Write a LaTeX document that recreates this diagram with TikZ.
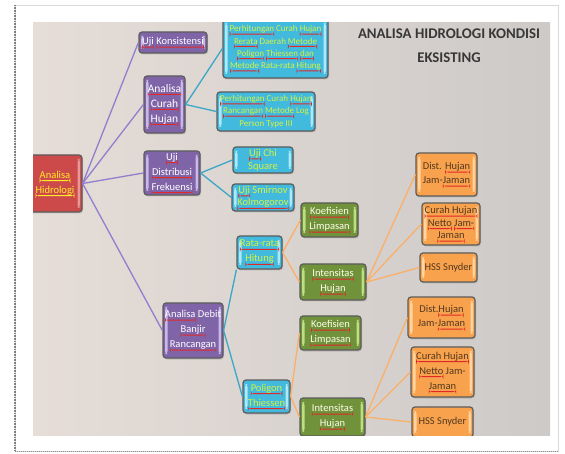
\documentclass[tikz,border=0pt]{standalone}
\usepackage{fontspec}
\setmainfont{Carlito}
\usetikzlibrary{shadows}

\definecolor{unguF}{RGB}{128,100,168}
\definecolor{unguL}{RGB}{200,185,230}
\definecolor{biruF}{RGB}{66,186,222}
\definecolor{biruL}{RGB}{175,232,246}
\definecolor{hijauF}{RGB}{112,146,58}
\definecolor{hijauL}{RGB}{190,222,130}
\definecolor{oranyeF}{RGB}{249,162,77}
\definecolor{oranyeL}{RGB}{255,212,160}
\definecolor{merahF}{RGB}{205,74,74}
\definecolor{merahL}{RGB}{236,150,150}
\definecolor{garis}{RGB}{92,92,92}
\definecolor{ulred}{RGB}{225,40,40}
\definecolor{kuning}{RGB}{255,236,40}
\definecolor{hijaumuda}{RGB}{214,242,60}
\definecolor{coklat}{RGB}{82,56,32}
\definecolor{bgL}{RGB}{230,221,215}
\definecolor{bgM}{RGB}{241,233,226}
\definecolor{bgR}{RGB}{205,202,200}
\definecolor{lineungu}{RGB}{146,126,206}
\colorlet{linebiru}{biruF!90!black}
\colorlet{lineoranye}{oranyeF!85!white}

% underline in its own colour, text keeps its colour
\newlength\rulw
\newcommand\rul[2][ulred]{\settowidth\rulw{#2}\rlap{\tikz[baseline=0pt]\fill[#1] (0pt,-1.8pt) rectangle (\rulw,-2.8pt);}#2}

\begin{document}
\begin{tikzpicture}[x=1pt, y=-1pt,
  kotak/.style={rectangle, rounded corners=3pt, draw=garis, line width=1.2pt, inner sep=1pt, align=center,
    font=\fontsize{10.5}{15}\selectfont, drop shadow={shadow xshift=1pt, shadow yshift=-1.5pt, opacity=.3}},
  bevel/.style={path picture={
    \fill[#1] ([xshift=2pt,yshift=4pt]path picture bounding box.south west) rectangle ([xshift=4.5pt,yshift=-4pt]path picture bounding box.north west);
    \fill[#1] ([xshift=-4.5pt,yshift=4pt]path picture bounding box.south east) rectangle ([xshift=-2pt,yshift=-4pt]path picture bounding box.north east);}},
  sz/.style 2 args={minimum width=#1pt, minimum height=#2pt},
  merah/.style={kotak, fill=merahF, text=kuning, bevel=merahL},
  ungu/.style={kotak, fill=unguF, text=white, bevel=unguL},
  biru/.style={kotak, fill=biruF, text=hijaumuda, bevel=biruL},
  hijau/.style={kotak, fill=hijauF, text=white!92!yellow, bevel=hijauL},
  oranye/.style={kotak, fill=oranyeF, text=coklat, bevel=oranyeL},
  garisungu/.style={lineungu, line width=1.3pt},
  garisbiru/.style={linebiru, line width=1.3pt},
  garisoranye/.style={lineoranye, line width=1.3pt}]

  \useasboundingbox (0,0) rectangle (565,454);
  \fill[white] (0,0) rectangle (565,454);
  \draw[black!15] (15,5) rectangle (558,451);
  \draw[black!50, line width=2.5pt, dash pattern=on 0.8pt off 0.8pt] (15,5) -- (15,451);
  \draw[black!45, line width=1pt, dash pattern=on 1pt off 1pt] (15,451) -- (558,451);

  \begin{scope}
  \clip (33,23) rectangle (550,435);
  \shade[left color=bgL, middle color=bgM, right color=bgR] (33,23) rectangle (550,435);

  \node[font=\bfseries\fontsize{14.8}{24}\selectfont, text=black!78, align=center] (judul) at (449,46) {ANALISA HIDROLOGI KONDISI\\EKSISTING};

  % level 1
  \node[merah, sz={54}{57}] (hidrologi) at (55,183.5) {\rul[kuning]{Analisa}\\\rul[kuning]{Hidrologi}};

  % level 2
  \node[ungu, sz={68}{21}] (konsistensi) at (173,42.5) {\rul{Uji} \rul{Konsistensi}};
  \node[ungu, sz={41}{57}, font=\fontsize{11.5}{15}\selectfont] (curah) at (164.5,104.5) {\rul{Analisa}\\\rul{Curah}\\\rul{Hujan}};
  \node[ungu, sz={56}{44}] (distribusi) at (172,173) {\rul{Uji}\\\rul{Distribusi}\\\rul{Frekuensi}};
  \node[ungu, sz={60}{55}] (debit) at (193,330.5) {\rul{Analisa} Debit\\\rul{Banjir}\\\rul{Rancangan}};

  % level 3
  \node[biru, sz={105}{59}, font=\fontsize{9}{12.3}\selectfont] (rerata) at (275.5,48.5) {\rul{Perhitungan} Curah \rul{Hujan}\\\rul{Rerata} Daerah \rul{Metode}\\\rul{Poligon} \rul{Thiessen} \rul{dan}\\\rul{Metode} Rata-rata \rul{Hitung}};
  \node[biru, sz={98}{39}, font=\fontsize{9}{12.3}\selectfont] (logperson) at (266,111.5) {\rul{Perhitungan} Curah \rul{Hujan}\\\rul{Rancangan} \rul{Metode} Log\\Person Type III};
  \node[biru, sz={60}{26}, font=\fontsize{10.5}{12.5}\selectfont] (chisquare) at (263,160) {\rul{Uji} Chi\\Square};
  \node[biru, sz={62}{27}, font=\fontsize{10.5}{12.5}\selectfont] (smirnov) at (263,197.5) {\rul{Uji} Smirnov\\\rul{Kolmogorov}};
  \node[biru, sz={45}{33}] (ratarata) at (259.5,252.5) {\rul{Rata-rata}\\\rul{Hitung}};
  \node[biru, sz={47}{33}] (poligon) at (266.5,396.5) {\rul{Poligon}\\\rul{Thiessen}};

  % level 4
  \node[hijau, sz={57}{34}] (koefA) at (329.5,220) {\rul{Koefisien}\\\rul{Limpasan}};
  \node[hijau, sz={66}{36}] (intenA) at (333,282) {\rul{Intensitas}\\\rul{Hujan}};
  \node[hijau, sz={61}{34}] (koefB) at (330.5,333) {\rul{Koefisien}\\\rul{Limpasan}};
  \node[hijau, sz={65}{38}] (intenB) at (332.5,417) {\rul{Intensitas}\\\rul{Hujan}};

  % level 5
  \node[oranye, sz={61}{43}, font=\fontsize{10.5}{14}\selectfont] (distA) at (446.5,174.5) {Dist. \rul{Hujan}\\Jam-\rul{Jaman}};
  \node[oranye, sz={58}{42}, font=\fontsize{10.5}{12.5}\selectfont] (nettoA) at (451,224) {\rul{Curah Hujan}\\\rul{Netto} \rul{Jam-}\\\rul{Jaman}};
  \node[oranye, sz={57}{29}] (snyderA) at (448.5,267.5) {HSS Snyder};
  \node[oranye, sz={67}{41}, font=\fontsize{10.5}{14}\selectfont] (distB) at (441.5,317.5) {Dist.\rul{Hujan}\\Jam-\rul{Jaman}};
  \node[oranye, sz={63}{50}, font=\fontsize{10.5}{15}\selectfont] (nettoB) at (442.5,372) {\rul{Curah Hujan}\\\rul{Netto} Jam-\\\rul{Jaman}};
  \node[oranye, sz={61}{30}] (snyderB) at (442.5,422) {HSS Snyder};

  \draw[garisungu] (hidrologi.east) -- (konsistensi.west);
  \draw[garisungu] (hidrologi.east) -- (curah.west);
  \draw[garisungu] (hidrologi.east) -- (distribusi.west);
  \draw[garisungu] (hidrologi.east) -- (debit.west);

  \draw[garisbiru] (curah.east) -- (rerata.west);
  \draw[garisbiru] (curah.east) -- (logperson.west);
  \draw[garisbiru] (distribusi.east) -- (chisquare.west);
  \draw[garisbiru] (distribusi.east) -- (smirnov.west);
  \draw[garisbiru] (debit.east) -- (ratarata.south west);
  \draw[garisbiru] (debit.east) -- (poligon.west);

  \draw[garisoranye] (ratarata.east) -- (koefA.west);
  \draw[garisoranye] (ratarata.east) -- (intenA.west);
  \draw[garisoranye] (poligon.east) -- (koefB.west);
  \draw[garisoranye] (poligon.east) -- (intenB.west);
  \draw[garisoranye] (intenA.east) -- (distA.west);
  \draw[garisoranye] (intenA.east) -- (nettoA.west);
  \draw[garisoranye] (intenA.east) -- (snyderA.west);
  \draw[garisoranye] (intenB.east) -- (distB.west);
  \draw[garisoranye] (intenB.east) -- (nettoB.west);
  \draw[garisoranye] (intenB.east) -- (snyderB.west);
  \end{scope}
\end{tikzpicture}
\end{document}
